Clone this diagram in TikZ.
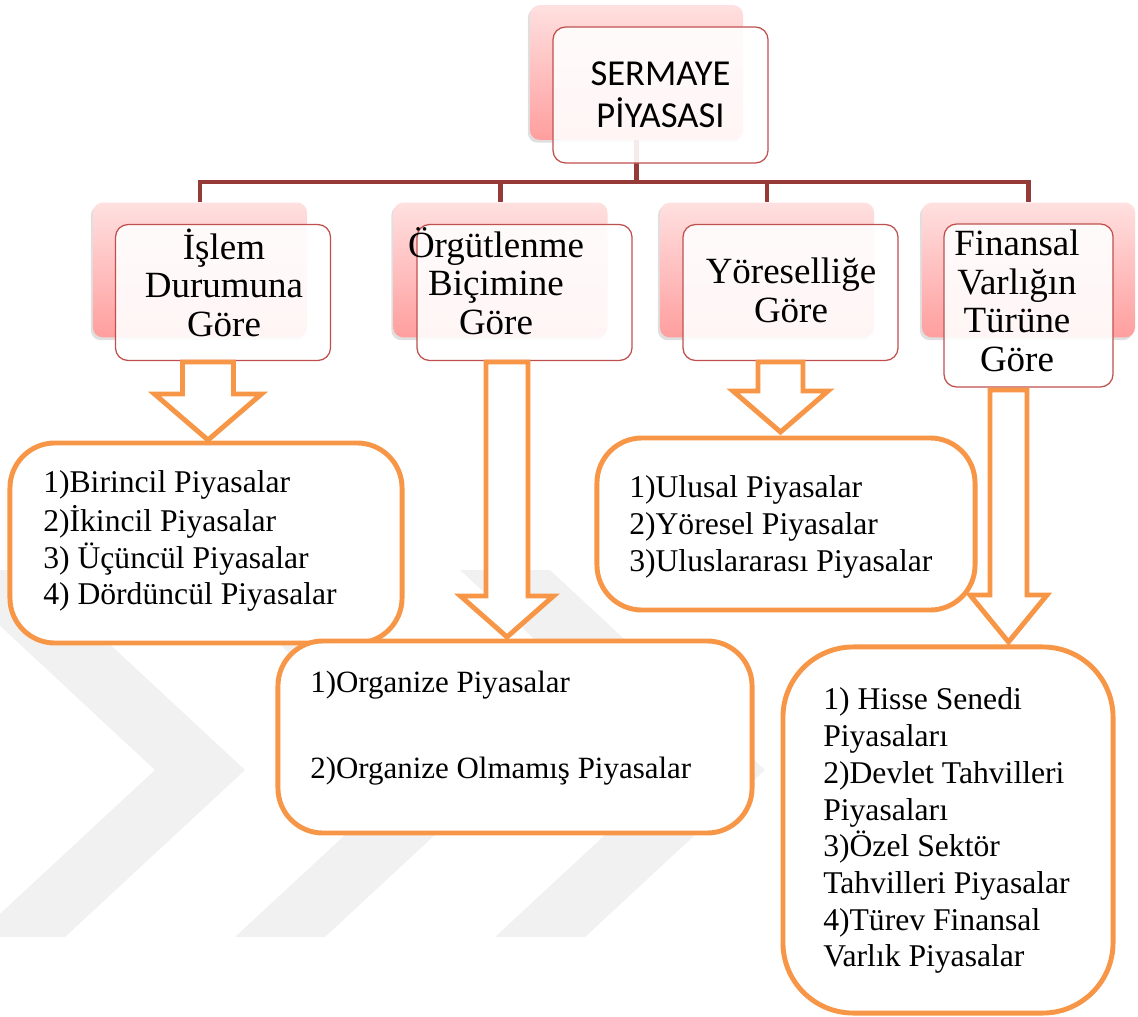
\documentclass[tikz,border=0pt]{standalone}
\usepackage{fontspec}
\setmainfont{Liberation Serif}
\newfontfamily\calibri{Carlito}
\usetikzlibrary{shadows}

\definecolor{bagkirmizi}{RGB}{150,58,56}
\definecolor{kenarkirmizi}{RGB}{192,80,77}
\definecolor{turuncu}{RGB}{247,150,70}
\definecolor{pembeust}{RGB}{255,224,224}
\definecolor{pembealt}{RGB}{255,158,158}
\definecolor{filigran}{RGB}{241,241,241}

\tikzset{
  golge/.style={rectangle, rounded corners=7, inner sep=0pt, top color=pembeust, bottom color=pembealt,
    minimum width=5.35cm, minimum height=3.37cm,
    drop shadow={shadow xshift=-1.5pt, shadow yshift=-2pt, opacity=0.25}},
  kutu/.style={rectangle, rounded corners=9, inner sep=0pt, draw=kenarkirmizi, line width=0.9pt,
    fill=white, fill opacity=0.9, text opacity=1, minimum width=5.375cm, minimum height=3.4cm},
  baslik/.style={inner sep=0pt, anchor=south, align=center, font=\fontsize{26.3}{27.4}\selectfont},
  liste/.style={rectangle, draw=turuncu, line width=3.5pt, fill=white},
  madde/.style={inner sep=0pt, anchor=north west, align=left, font=\fontsize{22.5}{26.1}\selectfont},
  bag/.style={draw=bagkirmizi, line width=3.5pt, line join=miter},
  okgovde/.style={draw=turuncu, line width=3.5pt, fill=white, line join=miter},
}

% blok ok: x orta, govde ustu, bas baslangici, uc, govde yari genisligi, bas yari genisligi
\newcommand{\blokok}[6]{%
  \draw[okgovde] (#1-#5,#2) -- (#1+#5,#2) -- (#1+#5,#3) -- (#1+#6,#3) -- (#1,#4)
    -- (#1-#6,#3) -- (#1-#5,#3) -- cycle;}
% filigran seridi
\newcommand{\filigranok}[1]{%
  \fill[filigran] (#1,570) -- ++(90,0) -- ++(215,200) -- ++(-180,167) -- ++(-90,0)
    -- ++(180,-167) -- cycle;}

\begin{document}
\begin{tikzpicture}[x=0.025cm, y=-0.025cm, line join=round]
\useasboundingbox (0,0) rectangle (1138,1017);
% filigran
\foreach \xa in {-60,200,460} \filigranok{\xa};

% pembe golgeler
\node[golge, minimum width=5.325cm] (sermayeg) at (636.5,72.5) {};
\node[golge] (islemg) at (200,270) {};
\node[golge] (orgutg) at (500.5,270) {};
\node[golge] (yoreg) at (767,270) {};
\node[golge, minimum width=5.325cm] (finansg) at (1028.5,270) {};

% baglar
\coordinate (bus) at (0,182);
\foreach \k in {islemg,orgutg,yoreg,finansg}
  \draw[bag] (sermayeg.south) -- (sermayeg.south|-bus) -| (\k.north);

% on kutular
\node[kutu, align=center, font=\calibri\fontsize{26}{30}\selectfont] (sermaye) at (660.5,95) {SERMAYE\\PİYASASI};
\node[kutu] (islem) at (223,292.5) {};
\node[kutu] (orgut) at (524.5,292.5) {};
\node[kutu] (yore) at (790.5,292.5) {};
\node[kutu, minimum width=4.225cm, minimum height=4.075cm] (finans) at (1028.5,305.5) {};

\node[baslik] (islemy) at (224,337) {İşlem\\Durumuna\\Göre};
\node[baslik] (orguty) at (496,335) {Örgütlenme\\Biçimine\\Göre};
\node[baslik] (yorey) at (791,323) {Yöreselliğe\\Göre};
\node[baslik] (finansy) at (1017,372) {Finansal\\Varlığın\\Türüne\\Göre};

% listeler
\node[liste, rounded corners=32, minimum width=9.8cm, minimum height=5cm] (islemlist) at (206,543) {};
\node[liste, rounded corners=32, minimum width=11.85cm, minimum height=4.8cm] (orgutlist) at (515,737) {};
\node[liste, rounded corners=32, minimum width=9.45cm, minimum height=4.3cm] (yorelist) at (786,524) {};
\node[liste, rounded corners=50, minimum width=8.25cm, minimum height=9.15cm] (finanslist) at (948,830) {};

\node[madde] (islemmad) at (43,467) {\strut 1)Birincil Piyasalar\\2)İkincil Piyasalar\\3) Üçüncül Piyasalar\\4) Dördüncül Piyasalar};
\node[madde, font=\fontsize{22}{30.6}\selectfont] (orgutmad) at (310,662) {\strut 1)Organize Piyasalar\\ \\2)Organize Olmamış Piyasalar};
\node[madde] (yoremad) at (629,472) {\strut 1)Ulusal Piyasalar\\2)Yöresel Piyasalar\\3)Uluslararası Piyasalar};
\node[madde] (finansmad) at (823,684) {\strut 1) Hisse Senedi\\Piyasaları\\2)Devlet Tahvilleri\\Piyasaları\\3)Özel Sektör\\Tahvilleri Piyasalar\\4)Türev Finansal\\Varlık Piyasalar};

% oklar
\blokok{208}{362}{394}{440}{25.5}{53.5}
\blokok{507}{362}{596}{637}{21}{46.5}
\blokok{780.5}{362}{391}{432}{22.5}{47.5}
\blokok{1008.5}{390}{595}{642}{18.5}{38.5}
\end{tikzpicture}
\end{document}
